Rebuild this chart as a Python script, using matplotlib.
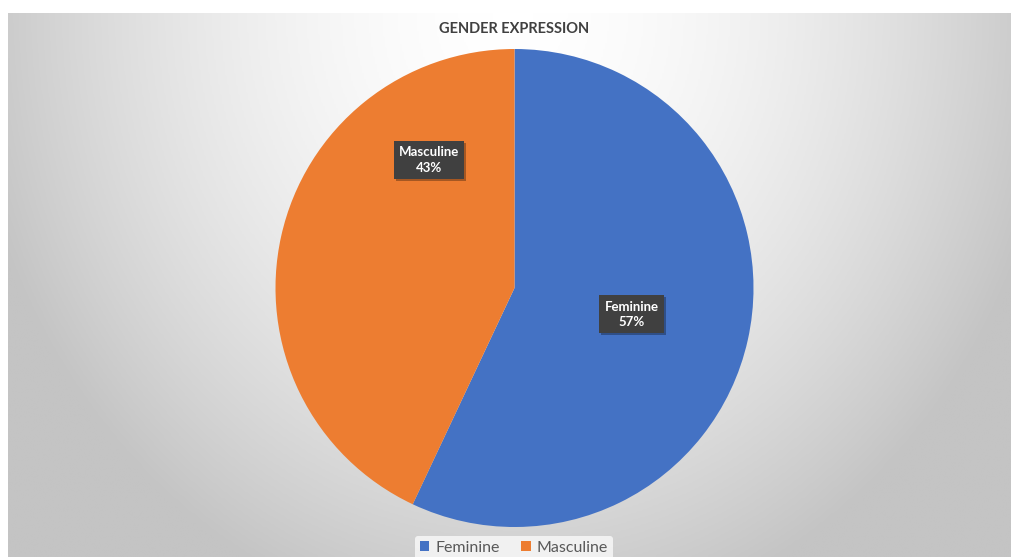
import numpy as np
import matplotlib
matplotlib.use("Agg")
import matplotlib.pyplot as plt
import matplotlib.patheffects as pe
from matplotlib.colors import LinearSegmentedColormap

# Data
categories = ["Feminine", "Masculine"]
shares = [57, 43]
colors = ["#4472C4", "#ED7D31"]
title = "GENDER EXPRESSION"

# Label box centres (axes fraction of the pie axes)
label_pos = {"Feminine": (0.745, 0.445), "Masculine": (0.321, 0.768)}

W, H = 1012, 557
fig = plt.figure(figsize=(W / 100, H / 100), dpi=100)
fig.patch.set_facecolor("white")

# Chart area with a soft radial gradient
x0, y_top = 8, 13
bg = fig.add_axes([x0 / W, 0, 1 - x0 / W, (H - y_top) / H])
bg.set_axis_off()
nx, ny = 500, 280
xx, yy = np.meshgrid(np.linspace(0, 1, nx), np.linspace(0, 1, ny))
dx = (xx - 0.503) / 0.55
dy = yy / 1.15
r = np.clip(np.sqrt(dx ** 2 + dy ** 2), 0, 1.3)
shade = np.clip(r ** 1.7, 0, 1)
cmap = LinearSegmentedColormap.from_list("bg", ["#ffffff", "#c4c4c4"])
bg.imshow(shade, cmap=cmap, vmin=0, vmax=1, aspect="auto",
          extent=[0, 1, 1, 0], origin="upper", interpolation="bilinear")
bg.set_xlim(0, 1)
bg.set_ylim(1, 0)

# Pie
cx, cy, rad = 514.5, 288, 239
ax = fig.add_axes([(cx - rad) / W, (H - cy - rad) / H, 2 * rad / W, 2 * rad / H])
wedges, _ = ax.pie(shares, colors=colors, startangle=90, counterclock=False,
                   radius=1, wedgeprops=dict(linewidth=0))
ax.set_xlim(-1, 1)
ax.set_ylim(-1, 1)
ax.set_aspect("equal")
ax.set_axis_off()

for name, val in zip(categories, shares):
    px, py = label_pos[name]
    t = ax.text(px, py, f"{name}\n{val}%", transform=ax.transAxes,
                ha="center", va="center", fontsize=9.5, fontweight="bold",
                family="Lato", color="white", linespacing=1.35,
                bbox=dict(boxstyle="square,pad=0.4", fc="#404040", ec="none"))
    t.get_bbox_patch().set_path_effects(
        [pe.withSimplePatchShadow(offset=(1.5, -1.5), shadow_rgbFace="black", alpha=0.3)])

fig.text(514 / W, 1 - 29 / H, title, ha="center", va="center",
         fontsize=10.5, fontweight="bold", family="Lato", color="#404040")

leg = fig.legend(wedges, categories, loc="center", bbox_to_anchor=(514 / W, 1 - 548 / H),
                 ncol=2, frameon=True, handlelength=0.6, handleheight=0.6,
                 handletextpad=0.4, columnspacing=1.3, borderpad=0.3,
                 prop=dict(family="Lato", size=11.5))
leg.get_frame().set_facecolor("#f7f7f7")
leg.get_frame().set_edgecolor("none")
leg.get_frame().set_alpha(0.85)
for t in leg.get_texts():
    t.set_color("#595959")

fig.savefig("out.png", dpi=100, facecolor="white")
